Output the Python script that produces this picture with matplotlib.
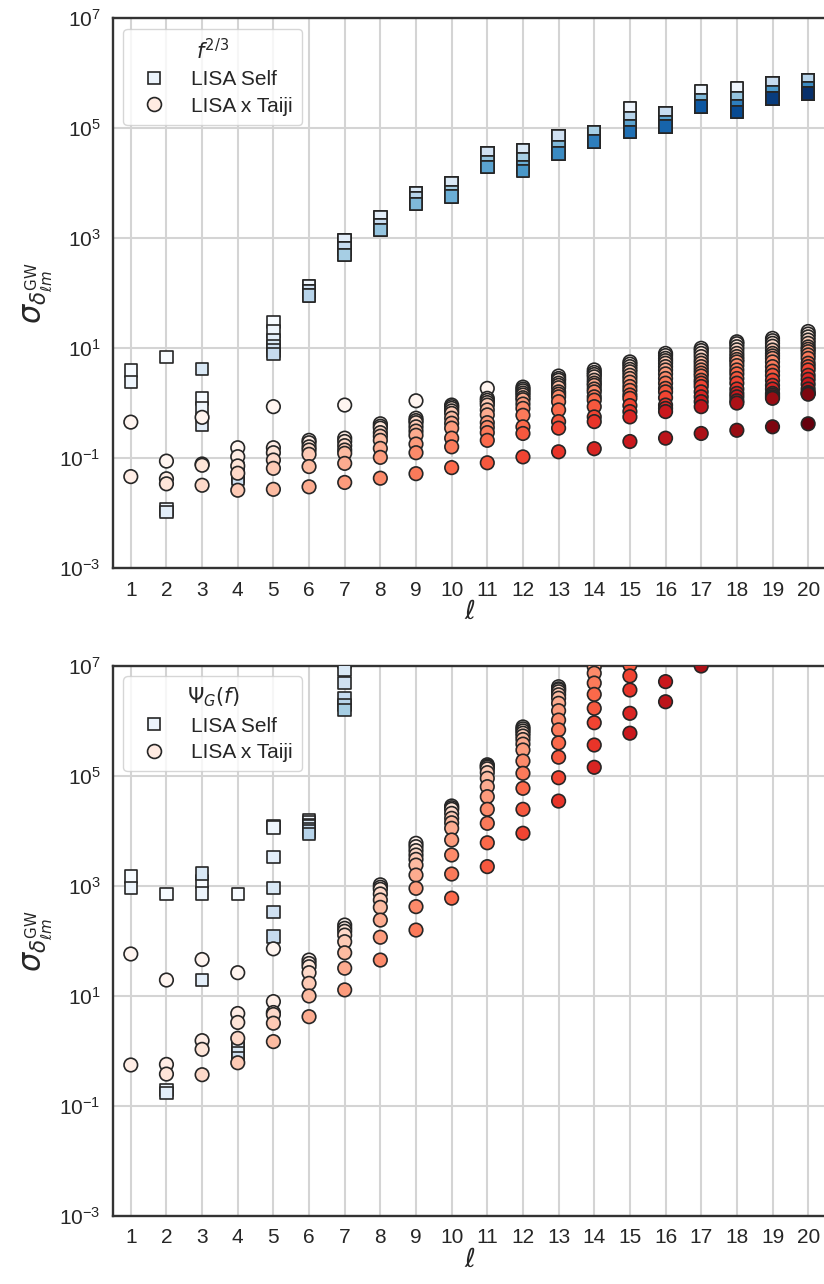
import matplotlib
matplotlib.use('Agg')
import matplotlib.pyplot as plt
from matplotlib.lines import Line2D

plt.rcParams['font.family'] = ['Liberation Sans', 'DejaVu Sans']

# multipoles on the x axis
ells = list(range(1, 21))
tickLabels = [str(l) for l in ells]

# sigma for the f^(2/3) spectrum, one list per ell, index = m (0..ell)
f23Self = [
    [3.9, 2.4],
    [6.9, 0.0115, 0.0105],
    [1.2, 0.8, 0.41, 4.15],
    [0.065, 0.058, 0.052, 0.046, 0.042],
    [30, 20, 14, 11, 9, 7.8],
    [134, 134, 110, 110, 110, 90, 90],
    [920, 920, 920, 650, 650, 650, 490, 490],
    [2380, 2380, 2380, 1720, 1720, 1720, 1400, 1400, 1400],
    [6600, 6600, 6600, 6600, 5250, 5250, 5250, 4170, 4170, 4170],
    [9900, 9900, 9900, 9900, 6950, 6950, 6950, 6950, 5750, 5750, 5750],
    [34600, 34600, 34600, 34600, 34600, 24400, 24400, 24400, 24400, 19800, 19800, 19800],
    [39800, 39800, 39800, 39800, 27000, 27000, 27000, 27000, 19800, 19800, 19800, 16700, 16700],
    [71600, 71600, 71600, 71600, 71600, 45700, 45700, 45700, 45700, 45700, 34600, 34600, 34600, 34600],
    [85000, 85000, 85000, 85000, 85000, 85000, 85000, 85000, 57000, 57000, 57000, 57000, 57000, 57000,
     57000],
    [234000, 234000, 150000, 150000, 150000, 150000, 150000, 106000, 106000, 106000, 106000, 106000,
     85000, 85000, 85000, 85000],
    [185000, 185000, 185000, 185000, 185000, 185000, 130000, 130000, 130000, 130000, 130000, 130000,
     106000, 106000, 106000, 106000, 106000],
    [476000, 476000, 324000, 324000, 324000, 324000, 324000, 324000, 324000, 324000, 246000, 246000,
     246000, 246000, 246000, 246000, 246000, 246000],
    [525000, 525000, 348000, 348000, 348000, 348000, 348000, 348000, 348000, 246000, 246000, 246000,
     246000, 246000, 246000, 198000, 198000, 198000, 198000],
    [650000, 650000, 650000, 650000, 650000, 650000, 458000, 458000, 458000, 458000, 458000, 458000,
     458000, 348000, 348000, 348000, 348000, 348000, 348000, 348000],
    [747000, 747000, 747000, 747000, 747000, 747000, 747000, 525000, 525000, 525000, 525000, 525000,
     525000, 525000, 427000, 427000, 427000, 427000, 427000, 427000, 427000],
]

f23Cross = [
    [0.45, 0.046],
    [0.088, 0.042, 0.034],
    [0.55, 0.078, 0.074, 0.032],
    [0.154, 0.106, 0.072, 0.053, 0.026],
    [0.86, 0.154, 0.125, 0.092, 0.065, 0.027],
    [0.21, 0.19, 0.16, 0.14, 0.117, 0.070, 0.030],
    [0.92, 0.23, 0.20, 0.168, 0.14, 0.122, 0.080, 0.036],
    [0.42, 0.38, 0.35, 0.29, 0.25, 0.21, 0.15, 0.103, 0.043],
    [1.1, 0.53, 0.48, 0.44, 0.37, 0.31, 0.26, 0.18, 0.125, 0.052],
    [0.92, 0.86, 0.80, 0.72, 0.65, 0.53, 0.43, 0.35, 0.23, 0.16, 0.067],
    [1.85, 1.22, 1.12, 1.02, 0.92, 0.75, 0.61, 0.44, 0.36, 0.29, 0.21, 0.082],
    [1.95, 1.80, 1.67, 1.52, 1.40, 1.25, 1.15, 0.96, 0.80, 0.60, 0.37, 0.28, 0.105],
    [3.1, 2.8, 2.6, 2.3, 2.1, 1.9, 1.6, 1.45, 1.3, 1.06, 0.75, 0.46, 0.35, 0.13],
    [4.0, 3.6, 3.3, 3.0, 2.6, 2.3, 2.1, 1.8, 1.6, 1.3, 1.13, 0.86, 0.56, 0.46, 0.148],
    [5.6, 5.1, 4.6, 4.1, 3.7, 3.2, 2.8, 2.4, 2.0, 1.7, 1.4, 1.22, 0.9, 0.70, 0.56, 0.20],
    [8.0, 7.3, 6.5, 5.9, 5.3, 4.6, 4.0, 3.4, 2.8, 2.3, 1.85, 1.6, 1.25, 0.92, 0.80, 0.70, 0.23],
    [9.9, 9.0, 8.0, 7.0, 6.0, 5.3, 4.6, 4.0, 3.5, 3.1, 2.6, 2.3, 2.0, 1.6, 1.3, 1.06, 0.86, 0.28],
    [13.0, 12.0, 10.6, 9.3, 8.0, 7.0, 6.2, 5.6, 4.8, 4.0, 3.4, 2.8, 2.3, 1.8, 1.5, 1.3, 1.1, 1.0, 0.32],
    [15.0, 13.6, 12.2, 10.8, 9.2, 8.0, 7.2, 6.5, 5.6, 4.6, 3.8, 3.2, 2.6, 2.1, 1.8, 1.5, 1.4, 1.3,
     1.22, 0.37],
    [20, 18, 16, 14, 12.2, 10.5, 9.5, 8.6, 7.5, 6.5, 5.3, 4.6, 4.0, 3.2, 2.7, 2.2, 1.8, 1.55, 1.5,
     1.45, 0.42],
]

# sigma for the Psi_G(f) spectrum (higher ells run off the top of the axis)
psiSelf = [
    [1480, 910],
    [708, 0.195, 0.17],
    [1200, 735, 19.5, 1700],
    [708, 1.3, 1.1, 0.9, 0.75],
    [12300, 11500, 3400, 910, 333, 120],
    [16000, 14500, 13000, 12000, 11000, 9800, 8800],
    [2.5e7, 1.5e7, 1.2e7, 8.5e6, 4.9e6, 2.6e6, 1.95e6, 1.58e6],
]

psiCross = [
    [58, 0.556],
    [19.5, 0.57, 0.38],
    [46, 1.54, 1.07, 0.37],
    [26.5, 4.8, 3.3, 1.7, 0.61],
    [72, 7.9, 5.0, 4.6, 3.2, 1.48],
    [45, 39, 34, 26.5, 17, 10, 4.2],
    [195, 170, 150, 128, 97, 61, 32, 12.9],
    [1050, 950, 870, 716, 556, 409, 240, 117, 45],
    [5970, 5190, 4390, 3660, 3050, 2400, 1580, 907, 421, 158],
    [28500, 26500, 24800, 20900, 17000, 14100, 11200, 6860, 3660, 1650, 600],
    [160000, 152000, 145000, 135000, 115000, 90800, 64000, 42100, 24800, 13800, 6100, 2250],
    [780000, 720000, 660000, 600000, 533000, 460000, 380000, 297000, 187000, 112000, 59700, 24800, 9100],
    [4.2e6, 3.85e6, 3.7e6, 3.4e6, 3.0e6, 2.6e6, 2.1e6, 1.54e6, 1.04e6, 6.9e5, 4.0e5, 2.2e5, 9.3e4, 3.5e4],
    [2.8e7, 2.4e7, 2.05e7, 1.75e7, 1.5e7, 1.3e7, 1.12e7, 9.7e6, 7.4e6, 4.9e6, 3.05e6, 1.7e6, 9.3e5,
     3.66e5, 1.44e5],
    [8e7, 6.8e7, 5.8e7, 5e7, 4.3e7, 3.7e7, 3.2e7, 2.7e7, 2.3e7, 1.9e7, 1.5e7, 1.04e7, 6.6e6, 3.66e6,
     1.38e6, 6.0e5],
    [3e8, 2.5e8, 2.1e8, 1.8e8, 1.5e8, 1.25e8, 1.05e8, 8.8e7, 7.3e7, 6e7, 4.8e7, 3.8e7, 2.9e7, 2.1e7,
     1.4e7, 5.2e6, 2.24e6],
    [1.5e9, 1.2e9, 1e9, 8.5e8, 7e8, 5.8e8, 4.8e8, 3.9e8, 3.2e8, 2.6e8, 2.1e8, 1.6e8, 1.2e8, 8.5e7,
     5.5e7, 3.3e7, 1.8e7, 1.0e7],
]

legendTitles = [r'$f^{2/3}$', r'$\Psi_G(f)$']
seriesNames = ['LISA Self', 'LISA x Taiji']
yTicks = [1e-3, 1e-1, 1e1, 1e3, 1e5, 1e7]

mMax = 20
blues = plt.get_cmap('Blues')
reds = plt.get_cmap('Reds')
edgeCol = '#262626'


def drawSeries(ax, data, marker, cmap, size):
    xs, ys, cs = [], [], []
    for i, vals in enumerate(data):
        for m, v in enumerate(vals):
            xs.append(i)
            ys.append(v)
            cs.append(m / mMax)
    ax.scatter(xs, ys, c=cs, cmap=cmap, vmin=0, vmax=1, marker=marker, s=size,
               edgecolors=edgeCol, linewidths=1.2, zorder=3)


fig = plt.figure(figsize=(8.24, 12.84), dpi=100)
axTop = fig.add_axes([0.1371, 0.5576, 0.8653, 0.4283])
axBot = fig.add_axes([0.1371, 0.0530, 0.8653, 0.4283])

panels = [(axTop, f23Self, f23Cross, legendTitles[0]),
          (axBot, psiSelf, psiCross, legendTitles[1])]

for ax, selfData, crossData, title in panels:
    drawSeries(ax, selfData, 's', blues, 80)
    drawSeries(ax, crossData, 'o', reds, 95)

    ax.set_yscale('log')
    ax.set_ylim(1e-3, 1e7)
    ax.set_yticks(yTicks)
    ax.minorticks_off()
    ax.set_xlim(-0.5, 19.5)
    ax.set_xticks(range(len(ells)))
    ax.set_xticklabels(tickLabels)

    ax.set_axisbelow(True)
    ax.grid(True, color='#d4d4d4', lw=1.5, zorder=0)
    for sp in ax.spines.values():
        sp.set_color('#333333')
        sp.set_linewidth(1.7)
    ax.tick_params(length=0, pad=9, labelsize=15, colors='#262626')

    ax.set_xlabel(r'$\ell$', fontsize=19, color='#262626', labelpad=0)
    ax.set_ylabel(r'$\sigma_{\delta^{\rm GW}_{\ell m}}$', fontsize=22, color='#262626', labelpad=4)

    handles = [
        Line2D([], [], ls='', marker='s', ms=9, mfc=blues(0.06), mec=edgeCol, mew=1.2),
        Line2D([], [], ls='', marker='o', ms=10, mfc=reds(0.06), mec=edgeCol, mew=1.2),
    ]
    leg = ax.legend(handles, seriesNames, title=title, loc='upper left', fontsize=15,
                    title_fontsize=15, frameon=True, fancybox=True, framealpha=0.8,
                    edgecolor='#cccccc', handletextpad=0.8, labelspacing=0.35, borderpad=0.45)
    leg.get_title().set_color('#262626')
    for t in leg.get_texts():
        t.set_color('#262626')

fig.savefig('out.png', dpi=100)
